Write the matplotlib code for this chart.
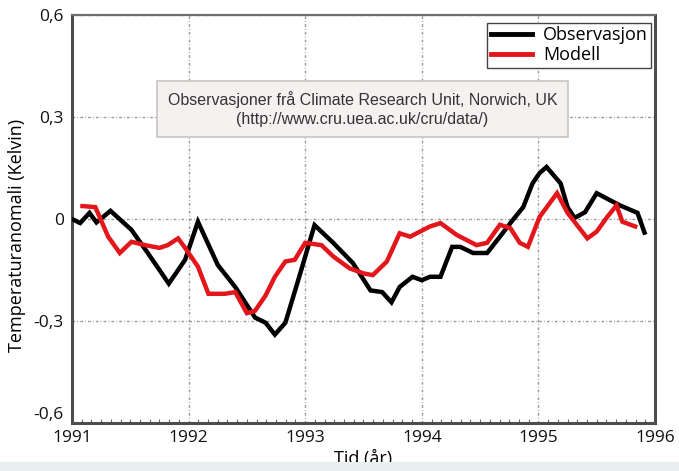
import matplotlib
matplotlib.use("Agg", force=True)
import matplotlib.pyplot as plt
from matplotlib.patches import Rectangle
from matplotlib.ticker import FixedLocator, MultipleLocator

# observed anomaly (year, K)
obs_year = [1991.00, 1991.07, 1991.15, 1991.21, 1991.33, 1991.51, 1991.65, 1991.83,
            1991.97, 1992.08, 1992.25, 1992.40, 1992.57, 1992.66, 1992.74, 1992.83,
            1992.94, 1993.08, 1993.24, 1993.41, 1993.56, 1993.66, 1993.74, 1993.81,
            1993.92, 1994.00, 1994.07, 1994.16, 1994.26, 1994.33, 1994.44, 1994.56,
            1994.67, 1994.78, 1994.87, 1994.95, 1995.01, 1995.07, 1995.19, 1995.25,
            1995.31, 1995.40, 1995.50, 1995.61, 1995.70, 1995.85, 1995.91]
obs_val = [0.000, -0.012, 0.018, -0.010, 0.024, -0.032, -0.100, -0.190,
           -0.120, -0.008, -0.135, -0.200, -0.290, -0.305, -0.340, -0.305,
           -0.180, -0.018, -0.070, -0.130, -0.210, -0.215, -0.245, -0.200,
           -0.170, -0.180, -0.170, -0.170, -0.082, -0.082, -0.100, -0.100,
           -0.052, -0.003, 0.035, 0.105, 0.135, 0.153, 0.105, 0.035,
           0.003, 0.020, 0.076, 0.056, 0.040, 0.018, -0.040]

# model anomaly (year, K)
mod_year = [1991.09, 1991.20, 1991.31, 1991.41, 1991.51, 1991.63, 1991.75, 1991.82,
            1991.91, 1991.97, 1992.08, 1992.17, 1992.31, 1992.40, 1992.50, 1992.57,
            1992.66, 1992.74, 1992.83, 1992.91, 1993.00, 1993.14, 1993.24, 1993.38,
            1993.50, 1993.58, 1993.70, 1993.81, 1993.90, 1994.07, 1994.16, 1994.30,
            1994.47, 1994.56, 1994.67, 1994.76, 1994.84, 1994.91, 1995.01, 1995.16,
            1995.25, 1995.42, 1995.50, 1995.59, 1995.67, 1995.72, 1995.83]
mod_val = [0.038, 0.035, -0.052, -0.100, -0.067, -0.077, -0.085, -0.077,
           -0.057, -0.085, -0.140, -0.220, -0.220, -0.215, -0.277, -0.270,
           -0.225, -0.170, -0.125, -0.120, -0.070, -0.077, -0.110, -0.145,
           -0.160, -0.165, -0.125, -0.042, -0.052, -0.022, -0.012, -0.047,
           -0.077, -0.070, -0.017, -0.027, -0.070, -0.082, 0.006, 0.076,
           0.018, -0.057, -0.037, 0.006, 0.040, -0.008, -0.022]

x_ticks = [1991, 1992, 1993, 1994, 1995, 1996]
y_ticks = [-0.6, -0.3, 0.0, 0.3, 0.6]
y_tick_labels = ["-0,6", "-0,3", "0", "0,3", "0,6"]

tick_font = ["Liberation Sans Narrow", "Open Sans"]
label_font = ["Open Sans", "DejaVu Sans"]

fig = plt.figure(figsize=(6.79, 4.71), dpi=100)
ax = fig.add_axes([72 / 679, 48 / 471, 583 / 679, 408 / 471])

ax.plot(obs_year, obs_val, color="black", linewidth=3.2, label="Observasjon",
        solid_joinstyle="miter", zorder=3)
ax.plot(mod_year, mod_val, color="#e3161b", linewidth=3.2, label="Modell",
        solid_joinstyle="miter", zorder=4)

ax.set_xlim(1991, 1996)
ax.set_ylim(-0.6, 0.6)
ax.xaxis.set_major_locator(FixedLocator(x_ticks))
ax.xaxis.set_minor_locator(MultipleLocator(1 / 12))
ax.set_yticks(y_ticks)
ax.set_yticklabels(y_tick_labels)
for lab in ax.get_xticklabels() + ax.get_yticklabels():
    lab.set_family(tick_font)
    lab.set_fontsize(12.5)
ax.yaxis.get_major_ticks()[0].label1.set_va("bottom")
ax.tick_params(axis="both", which="major", direction="in", length=0, pad=6, colors="#111111")
ax.tick_params(axis="x", which="minor", direction="in", length=3, width=0.8, color="#666666")
ax.tick_params(axis="x", which="major", pad=5)

ax.grid(True, which="major", color="#9a9a9a", linestyle=(0, (2, 1.5, 0.6, 1.5)), linewidth=1.0)
for side in ["left", "right", "bottom"]:
    ax.spines[side].set_color("#4d4d4d")
    ax.spines[side].set_linewidth(2.2)
ax.spines["top"].set_color("#6e6e6e")
ax.spines["top"].set_linewidth(1.6)

ax.set_xlabel("Tid (år)", family=label_font, fontsize=13, labelpad=3)
ax.set_ylabel("Temperaturanomali (Kelvin)", family=label_font, fontsize=13)
ax.yaxis.set_label_coords(-0.079, 0.46)

leg = ax.legend(loc="upper right", bbox_to_anchor=(1.0, 0.99), fancybox=False,
                framealpha=1, edgecolor="#444444", handlelength=2.3,
                prop={"family": label_font, "size": 13}, borderpad=0.2,
                labelspacing=0.1, handletextpad=0.6, borderaxespad=0.2)
leg.get_frame().set_linewidth(1.0)
for line in leg.get_lines():
    line.set_linewidth(3.5)

ax.text(0.498, 0.77,
        "Observasjoner frå Climate Research Unit, Norwich, UK\n(http://www.cru.uea.ac.uk/cru/data/)",
        transform=ax.transAxes, ha="center", va="center", fontsize=11.5,
        family=["Liberation Sans", "DejaVu Sans"], color="#333333", linespacing=1.3,
        bbox=dict(boxstyle="square,pad=0.65", facecolor="#f5f1f0", edgecolor="#c8c4c4",
                  linewidth=1.2), zorder=5)

fig.add_artist(Rectangle((0, 0), 1, 9 / 471, transform=fig.transFigure,
                         facecolor="#e9eff1", edgecolor="none", zorder=10))

fig.savefig("out.png", dpi=100)
plt.close(fig)
